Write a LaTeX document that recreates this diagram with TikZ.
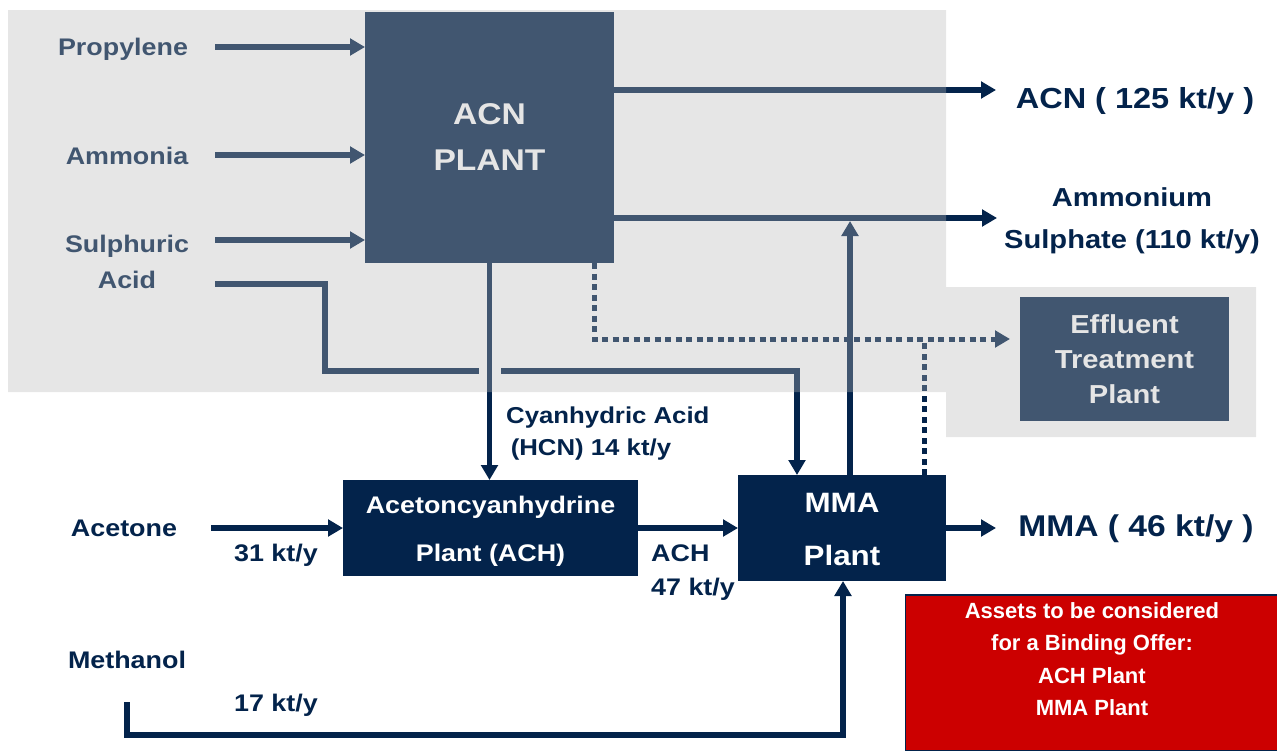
\documentclass[tikz,border=0pt]{standalone}
\usepackage{fontspec}
\setmainfont{Liberation Sans}[FakeStretch=1.12]
\newfontfamily\plainfont{Liberation Sans}
\usetikzlibrary{arrows.meta}
\definecolor{navy}{RGB}{3,35,75}
\definecolor{redbox}{RGB}{204,0,0}
\definecolor{veil}{RGB}{183,183,183}
\begin{document}
\begin{tikzpicture}[x=1pt,y=-1pt,
  plant/.style={fill=navy, draw=none, inner sep=0pt, outer sep=0pt, text=white, align=center},
  lbl/.style={text=navy, font=\bfseries\fontsize{24}{34}\selectfont, inner sep=0pt, align=center},
  flow/.style={draw=navy, line width=5.3pt, -{Triangle[length=15pt,width=16.5pt]}},
  flowline/.style={draw=navy, line width=5.3pt},
  dots/.style={draw=navy, line width=5pt, dash pattern=on 6pt off 4.5pt},
]
\useasboundingbox (0,0) rectangle (1277,750);

% plants
\node[plant, minimum width=249pt, minimum height=251pt, font=\bfseries\fontsize{30}{46}\selectfont] (acn) at (489.5,137.5) {ACN\\PLANT};
\node[plant, minimum width=295pt, minimum height=95pt, font=\bfseries\fontsize{24}{48}\selectfont] (ach) at (490.5,528) {\raisebox{-3pt}{\begin{tabular}{@{}c@{}}Acetoncyanhydrine\\Plant (ACH)\end{tabular}}};
\node[plant, minimum width=208pt, minimum height=105pt, font=\bfseries\fontsize{28}{53}\selectfont] (mma) at (842,528) {\raisebox{-2pt}{\begin{tabular}{@{}c@{}}MMA\\Plant\end{tabular}}};
\node[plant, minimum width=209pt, minimum height=124pt, font=\bfseries\fontsize{26}{35}\selectfont] (etp) at (1124.5,359) {Effluent\\Treatment\\Plant};
\node[fill=redbox, draw=navy, line width=1.2pt, minimum width=372pt, minimum height=156pt, inner sep=0pt, outer sep=0pt] (offer) at (1091.5,673) {};
\node[text=white, inner sep=0pt, align=center, font=\plainfont\bfseries\fontsize{22}{32.3}\selectfont] (offertext) at (1092,659) {Assets to be considered\\for a Binding Offer:\\ACH Plant\\MMA Plant};

% labels
\node[lbl] (prop) at (123,49) {Propylene};
\node[lbl] (amm) at (127,156) {Ammonia};
\node[lbl, font=\bfseries\fontsize{24}{36}\selectfont] (sulph) at (127,262) {Sulphuric\\Acid};
\node[lbl] (acet) at (124,528) {Acetone};
\node[lbl] (meth) at (127,660) {Methanol};
\node[lbl] (q31) at (276,555) {31 kt/y};
\node[lbl] (q17) at (276,705) {17 kt/y};
\node[lbl, anchor=west, align=left, font=\bfseries\fontsize{24}{34}\selectfont] (achq) at (651,573) {ACH\\47 kt/y};
\node[lbl, anchor=west, align=left, font=\bfseries\fontsize{23}{32}\selectfont] (hcn) at (506,434) {Cyanhydric Acid\\\hspace*{0.2em}(HCN) 14 kt/y};
\node[lbl, font=\bfseries\fontsize{29}{34}\selectfont] (acnout) at (1135,101) {ACN ( 125 kt/y )};
\node[lbl, font=\bfseries\fontsize{26}{42}\selectfont] (asout) at (1132,221) {Ammonium\\Sulphate (110 kt/y)};
\node[lbl, font=\bfseries\fontsize{30}{34}\selectfont] (mmaout) at (1136,529) {MMA ( 46 kt/y )};

% inputs to ACN plant
\coordinate (inP) at (215,47);
\coordinate (inA) at (215,155);
\coordinate (inS) at (215,240);
\draw[flow] (inP) -- (inP -| acn.west);
\draw[flow] (inA) -- (inA -| acn.west);
\draw[flow] (inS) -- (inS -| acn.west);

% sulphuric acid to MMA
\coordinate (inH) at (215,284);
\coordinate (acidC) at (325,371);
\coordinate (gapL) at (479,371);
\coordinate (gapR) at (501,371);
\coordinate (acidT) at (797,371);
\draw[flowline] (inH) -| (acidC) -- (gapL);
\draw[flow] (gapR) -- (acidT) -- (acidT |- mma.north);

% HCN
\draw[flow] (acn.south) -- (acn.south |- ach.north);

% outputs of ACN plant
\coordinate (outACN) at (996,90);
\coordinate (outAS) at (997,218);
\draw[flow] (acn.east |- outACN) -- (outACN);
\draw[flow] (acn.east |- outAS) -- (outAS);
\coordinate (upT) at (850,221);
\draw[flow] (mma.north -| upT) -- (upT);

% effluents
\coordinate (d1) at (594,339);
\coordinate (dEnd) at (1010,339);
\coordinate (d2) at (924,339);
\draw[dots, -{Triangle[length=15pt,width=16.5pt]}] (acn.south -| d1) -- (d1) -- (dEnd);
\draw[dots] (mma.north -| d2) -- (d2);

% lower flows
\coordinate (inAc) at (211,528);
\draw[flow] (inAc) -- (inAc -| ach.west);
\draw[flow] (ach.east) -- (ach.east -| mma.west);
\coordinate (outMMA) at (996,528);
\draw[flow] (mma.east) -- (outMMA);
\coordinate (inM) at (127,702);
\coordinate (mB) at (843,735);
\draw[flow] (inM) |- (mB) -- (mB |- mma.south);

% translucent grey veil
\fill[veil, opacity=0.35] (8,10) -- (946,10) -- (946,287) -- (1256,287) -- (1256,437) -- (946,437) -- (946,392) -- (8,392) -- cycle;
\end{tikzpicture}
\end{document}
